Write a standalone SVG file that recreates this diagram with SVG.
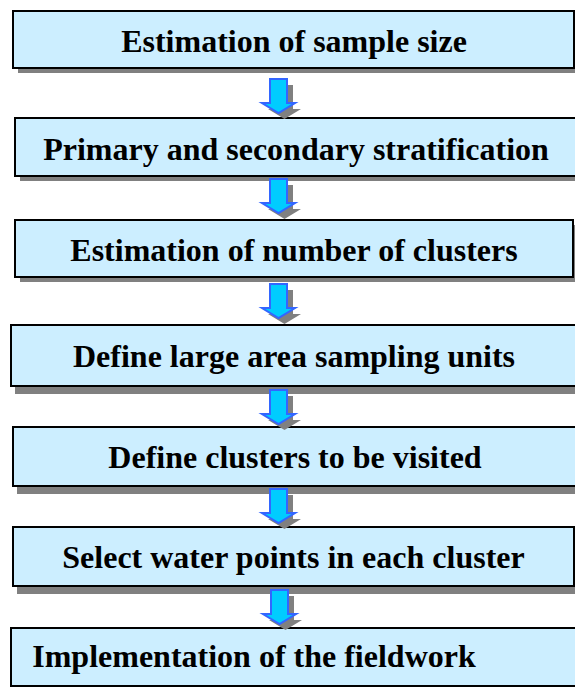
<svg xmlns="http://www.w3.org/2000/svg" width="575" height="687" viewBox="0 0 575 687">
<defs>
<style>
.box{fill:#cceeff;stroke:#000;stroke-width:2}
.sh{fill:#808080}
.ar{fill:#00ccff;stroke:#3366ff;stroke-width:2;stroke-linejoin:miter}
.as{fill:#808080}
text{font-family:'Liberation Serif','Times New Roman',Times,serif;font-weight:700;font-size:32px;fill:#000;text-anchor:middle}
</style>
<path id="arrow" d="M -9 0 H 8 V 24 H 16 L -0.5 34 L -17 24 H -9 Z"/>
</defs>
<rect width="575" height="687" fill="#fff"/>
<g id="n1"><rect class="sh" x="18" y="16" width="561" height="57"/><rect class="box" x="13" y="11" width="561" height="57"/><text x="294" y="52">Estimation of sample size</text></g>
<g id="n2"><rect class="sh" x="20" y="123" width="561" height="58"/><rect class="box" x="15" y="118" width="562" height="58"/><text x="296" y="160">Primary and secondary stratification</text></g>
<g id="n3"><rect class="sh" x="20" y="225" width="558" height="57"/><rect class="box" x="15" y="220" width="558" height="57"/><text x="294" y="261">Estimation of number of clusters</text></g>
<g id="n4"><rect class="sh" x="15" y="331" width="565" height="63"/><rect class="box" x="11" y="325" width="566" height="61"/><text x="294" y="367">Define large area sampling units</text></g>
<g id="n5"><rect class="sh" x="17" y="432" width="565" height="62"/><rect class="box" x="13" y="427" width="566" height="59"/><text x="295" y="468">Define clusters to be visited</text></g>
<g id="n6"><rect class="sh" x="17" y="532" width="561" height="62"/><rect class="box" x="13" y="527" width="561" height="59"/><text x="293.5" y="568">Select water points in each cluster</text></g>
<g id="n7"><rect class="box" x="11" y="628" width="566" height="58"/><text x="254" y="667">Implementation of the fieldwork</text></g>
<g id="connectors">
<g transform="translate(279,79)"><use href="#arrow" class="as" transform="translate(6,6)"/><use href="#arrow" class="ar"/></g>
<g transform="translate(279,179)"><use href="#arrow" class="as" transform="translate(6,6)"/><use href="#arrow" class="ar"/></g>
<g transform="translate(279,284)"><use href="#arrow" class="as" transform="translate(6,6)"/><use href="#arrow" class="ar"/></g>
<g transform="translate(279,390)"><use href="#arrow" class="as" transform="translate(6,6)"/><use href="#arrow" class="ar"/></g>
<g transform="translate(279,489)"><use href="#arrow" class="as" transform="translate(6,6)"/><use href="#arrow" class="ar"/></g>
<g transform="translate(280,590)"><use href="#arrow" class="as" transform="translate(6,6)"/><use href="#arrow" class="ar"/></g>
</g>
</svg>
